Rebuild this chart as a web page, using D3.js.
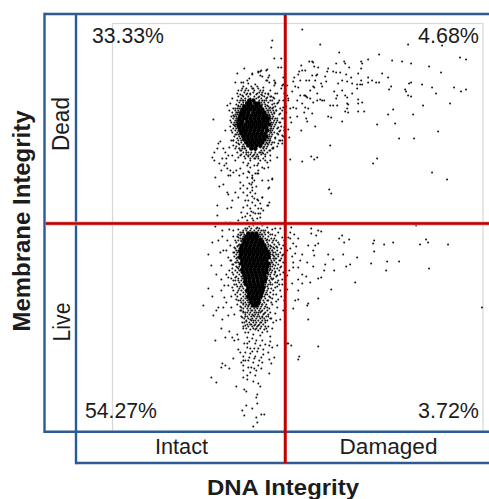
<!DOCTYPE html>
<html><head><meta charset="utf-8">
<script src="https://cdn.jsdelivr.net/npm/d3@7"></script>
<style>html,body{margin:0;padding:0;background:#fff}svg{display:block}text{font-family:"Liberation Sans",Arial,sans-serif;fill:#1c1c1c}</style>
</head><body><svg id="c" width="489" height="499"></svg>
<script>
const quadrantLabels = ["33.33%","4.68%","54.27%","3.72%"];
const xCategories = ["Intact","Damaged"];
const yCategories = ["Dead","Live"];
const xTitle = "DNA Integrity", yTitle = "Membrane Integrity";
const xGate = 285, yGate = 223;

// [DNA channel, membrane channel] events
const damagedDead = [[302,29],[320,44],[339,52],[379,54],[408,44],[442,45],[460,57],[466,59],[368,59],[361,61],[362,63],[392,60],[402,61],[411,63],[429,66],[441,72],[344,61],[345,63],[349,67],[336,63],[309,61],[312,61],[313,62],[301,65],[314,66],[318,67],[328,68],[327,71],[333,71],[336,72],[340,72],[346,74],[361,68],[358,73],[351,77],[299,71],[302,70],[305,70],[312,75],[316,75],[317,74],[298,74],[294,77],[293,81],[300,80],[306,80],[309,80],[315,80],[325,76],[326,81],[321,83],[322,86],[338,83],[342,80],[347,81],[361,80],[357,84],[360,84],[362,84],[368,77],[372,80],[368,82],[376,82],[379,82],[382,73],[388,77],[391,86],[389,89],[411,82],[409,83],[422,84],[432,87],[436,93],[454,87],[461,91],[466,89],[405,89],[406,91],[408,95],[411,96],[450,103],[423,105],[393,109],[388,114],[413,114],[395,123],[377,124],[438,131],[399,138],[414,138],[330,145],[311,156],[314,159],[317,157],[290,159],[302,161],[377,158],[373,163],[432,172],[447,179],[329,189],[331,193],[295,86],[298,87],[304,95],[305,95],[306,96],[307,97],[313,86],[314,87],[320,99],[322,100],[324,100],[334,91],[337,95],[336,98],[330,105],[333,105],[337,105],[347,103],[348,104],[347,108],[345,111],[348,112],[358,103],[362,102],[358,111],[364,111],[352,93],[347,97],[358,99],[293,107],[296,108],[302,103],[305,107],[308,108],[304,112],[312,113],[297,116],[306,118],[301,130],[307,121],[315,126],[289,137],[288,129],[291,122],[290,117],[328,116],[331,117],[342,121],[310,98],[313,102],[317,93],[310,90],[317,100],[342,90],[345,95],[352,83],[357,88],[287,85],[287,95],[288,98],[286,106],[288,100],[290,108],[292,91],[297,100],[300,95]];

const damagedLive = [[416,225],[311,228],[318,230],[321,231],[311,233],[316,235],[342,235],[339,238],[349,239],[344,242],[374,240],[373,243],[384,244],[393,242],[426,239],[428,242],[420,244],[448,244],[290,232],[294,234],[298,238],[290,238],[293,243],[308,245],[315,245],[318,243],[313,250],[314,255],[302,254],[295,253],[293,262],[300,260],[307,262],[313,266],[328,254],[333,259],[325,264],[343,254],[357,257],[374,251],[350,264],[346,266],[334,270],[324,270],[371,263],[387,261],[399,261],[386,270],[429,268],[298,267],[293,267],[302,274],[306,276],[310,282],[318,278],[321,277],[298,279],[292,283],[302,283],[298,290],[355,282],[331,289],[318,298],[308,303],[307,305],[298,299],[295,300],[293,308],[308,319],[482,307],[287,343],[291,345],[318,346],[299,356],[298,359],[287,250],[287,275],[287,289],[288,343],[290,248],[292,256],[289,270],[296,246],[291,227],[288,237]];

const intactDead = [[272,40],[271,47],[274,58],[281,58],[278,67],[281,67],[244,68],[237,73],[252,73],[258,72],[261,70],[267,69],[260,75],[268,77],[267,80],[235,82],[241,82],[243,82],[247,80],[249,78],[248,83],[242,88],[238,90],[237,93],[232,98],[230,103],[227,105],[229,110],[233,115],[213,119],[230,120],[255,84],[263,87],[270,90],[275,82],[274,85],[281,88],[283,84],[284,93],[257,93],[250,93],[260,90],[265,93],[273,97],[277,93],[272,100],[283,100],[277,103],[270,107],[273,110],[282,110],[280,113],[284,118],[272,118],[276,122],[264,100],[267,105],[247,93],[243,100],[240,100],[238,105],[235,108],[266,70],[260,71],[258,71],[252,74],[262,76],[269,75],[266,80],[269,82],[274,80],[275,83],[283,77],[282,85],[283,107],[268,93],[275,93],[273,107],[274,113],[275,118],[277,120],[278,127],[277,133],[282,135],[280,140],[282,143],[268,123],[271,132],[266,135],[263,147],[273,147],[260,152],[265,160],[258,163],[262,167],[268,167],[258,173],[255,173],[272,179],[269,187],[269,202],[268,205],[262,197],[258,200],[261,208],[255,213],[260,217],[258,213],[252,177],[252,187],[225,130],[220,141],[218,143],[231,140],[223,148],[214,152],[212,157],[214,160],[219,163],[222,158],[224,165],[227,168],[230,170],[225,152],[233,145],[237,152],[238,157],[243,162],[247,165],[250,160],[253,155],[255,150],[260,147],[263,153],[260,160],[267,162],[257,165],[258,170],[264,168],[240,168],[243,173],[247,177],[252,175],[257,173],[215,177],[230,175],[228,175],[233,172],[272,178],[268,180],[270,160],[277,157],[273,148],[282,140],[278,143],[223,184],[219,186],[240,182],[243,185],[252,182],[252,190],[247,188],[240,188],[227,192],[228,194],[235,192],[238,197],[247,195],[255,193],[243,192],[268,188],[217,205],[232,200],[227,208],[231,207],[217,215],[248,200],[252,202],[247,205],[255,205],[260,203],[267,205],[250,208],[258,208],[253,212],[260,213],[247,213],[242,217],[250,215],[257,218],[238,220],[247,220],[260,222],[255,222],[230,222],[225,222],[253,220],[262,197],[257,199],
[234,125],[231,130],[236,134],[233,140],[238,143],[242,148],[229,147],[226,158],[232,155],[217,148],[235,160],[240,155],[246,152],[250,167],[254,165],[248,171],[245,158],[252,178],[251,184],[250,192],[252,196],[249,183],[254,180],[262,180],[256,186],[245,200],[243,207],[254,198],[251,211],[263,210],[245,216],[252,218],[241,212],[269,140],[272,142],[275,137],[279,131],[284,127],[280,122],[271,128],[269,115],[276,110],[279,100],[286,112],[284,130],[270,150],[267,143],[265,154],[270,155],[258,156],[255,158],[248,155],[248,163],[244,148],[239,148],[236,120],[237,112],[239,116],[242,95],[245,90],[253,88],[258,97],[262,95],[267,97],[270,96],[274,103],[268,110],[240,150],[235,148],[228,155],[226,163],[221,170],[236,170],[239,175],[249,172]];

const intactLive = [[215,226],[222,230],[229,229],[233,230],[238,229],[222,236],[212,242],[218,240],[230,245],[235,240],[238,237],[223,250],[220,252],[208,254],[228,257],[234,252],[237,257],[211,265],[221,265],[232,264],[237,267],[216,274],[226,274],[228,277],[221,279],[232,272],[235,277],[238,280],[228,285],[224,285],[208,288],[232,287],[212,296],[221,290],[224,297],[226,302],[235,294],[238,290],[203,305],[218,307],[216,310],[213,315],[223,307],[231,307],[237,304],[234,314],[222,319],[228,315],[240,310],[242,317],[242,322],[245,325],[250,319],[255,320],[258,325],[262,317],[265,320],[270,312],[267,307],[272,304],[277,307],[280,319],[273,322],[245,312],[252,310],[258,312],[248,305],[262,304],[272,229],[267,227],[263,230],[262,234],[270,234],[275,235],[278,232],[267,239],[273,240],[282,237],[283,245],[277,247],[270,245],[278,254],[273,255],[282,255],[285,262],[275,265],[280,267],[270,269],[277,275],[282,279],[272,279],[270,284],[275,287],[280,290],[273,294],[270,297],[278,299],[267,294],[267,300],[278,242],[262,225],[253,225],[245,228],[242,232],[221,328],[229,331],[215,340],[225,337],[232,337],[234,340],[238,339],[237,334],[245,332],[250,329],[255,329],[264,329],[247,337],[252,338],[256,340],[260,335],[270,336],[270,341],[277,345],[269,345],[272,347],[247,343],[255,343],[250,348],[260,345],[238,349],[240,352],[245,352],[252,351],[257,351],[263,349],[268,352],[243,356],[255,356],[250,353],[233,358],[261,357],[248,360],[254,358],[241,362],[274,357],[269,359],[262,362],[271,363],[222,363],[221,367],[225,365],[229,368],[243,365],[251,367],[254,368],[258,365],[261,368],[243,370],[269,373],[247,375],[255,375],[211,377],[243,377],[247,379],[253,381],[216,382],[236,386],[258,383],[260,386],[244,389],[246,391],[257,394],[256,397],[257,403],[246,405],[252,408],[242,410],[261,414],[264,414],[244,415],[256,417],[257,422],[253,426],
[240,300],[243,303],[236,299],[243,311],[247,316],[241,307],[253,315],[257,316],[261,311],[264,313],[268,316],[275,313],[270,318],[265,326],[261,322],[254,325],[250,324],[246,321],[267,331],[272,328],[276,320],[283,310],[284,300],[281,296],[276,301],[285,283],[279,284],[277,282],[283,272],[275,271],[272,262],[273,247],[276,258],[280,260],[272,250],[284,240],[280,228],[285,230],[275,228],[257,227],[249,226],[241,241],[238,245],[236,262],[239,270],[236,284],[240,286],[231,296],[233,280],[229,270],[230,260],[226,250],[234,247],[240,235],[233,236],[227,240],[268,232],[258,330],[262,332],[248,332],[243,328],[253,334],[249,341],[244,343],[262,340],[265,344],[258,348],[247,347],[254,348],[263,354],[259,360],[249,357],[253,362],[245,360],[248,367],[256,370],[250,372],[243,360]];

// dense fringes around each population, as [membrane channel, DNA channels...] rows
const liveFringeRows = [[228,247,251,256,259],[230,243,246,250,254,258,261,265],[232,240,243,260,264,268],[234,238,241,244,259,261,265,272],[236,237,243,260,263,268],[238,240,242,262,265,271,274],[240,238,241,263,266,269,276],[242,236,243,263,267,272],[244,239,241,265,268,274,279],[246,237,240,265,268,271,276],[248,235,239,267,270,274,281],[250,236,238,269,272,277],[252,233,237,270,273,275,280],[254,236,239,270,272,276,283],[256,234,238,270,274,278],[258,236,239,270,273,275,281],[260,231,237,271,274,279],[262,235,238,271,276,283],[264,233,239,270,273,278],[266,236,239,270,272,281],[268,232,238,270,274,277],[270,235,240,269,272,279],[272,237,241,268,271,275,284],[274,233,239,268,270,274,280],[276,236,241,267,270,276],[278,231,238,242,267,271,273],[280,235,241,266,269,278],[282,239,243,266,270,275],[284,234,241,244,265,268,272,282],[286,237,242,265,267,277],[288,239,243,264,268,271],[290,233,241,245,264,267,273],[292,237,243,246,263,266,270],[294,240,245,262,265,276],[296,237,243,246,262,264,269],[298,241,245,247,261,265,272],[300,238,243,247,260,263,268],[302,241,245,248,260,264,271],[304,243,246,249,259,262,266],[306,240,245,248,251,255,258,261,265],[308,243,247,250,254,257,260,264,269],[310,241,248,251,255,259,262,267],[312,243,247,250,254,256,260,265],[314,245,249,252,255,258,263,268],[316,241,245,251,254,259,262,266],[318,244,248,252,256,260,264,271],[320,246,251,253,258,262,267],[322,244,249,253,256,260,265],[324,247,251,255,259,263],[326,243,248,252,257,261,268],[328,246,253,256,260,266]];
const deadFringeRows = [[86,243,251,257],[88,246,252,258],[90,241,248,254,263],[92,244,253,259,262],[94,240,246,250,256,261,268],[96,238,243,248,254,259,264,271],[98,241,245,250,256,261,266,274],[100,237,242,245,259,262,266,270],[102,239,243,246,261,264,268,278],[104,236,241,243,262,265,272],[106,238,240,265,268,275],[108,233,237,239,266,269,272,280],[110,235,238,267,270,276],[112,232,236,238,268,271,274],[114,235,237,269,272,279],[116,231,234,236,270,273],[118,233,236,270,272,277,282],[120,235,237,270,274],[122,231,234,236,271,273,279],[124,233,235,272,275],[126,230,235,237,271,274,281],[128,233,236,270,273,277],[130,235,238,270,272,280],[132,232,237,270,274],[134,235,238,269,272,278],[136,234,239,269,271,283],[138,237,240,268,270,275],[140,233,238,241,267,270,279],[142,236,241,266,269,274],[144,239,243,265,268,271],[146,236,242,244,264,267,277],[148,239,245,263,266,272],[150,241,246,261,264,269],[152,243,248,251,255,259,262,267],[154,241,246,250,254,257,261],[156,244,248,252,256,265],[158,250,254,258,263]];

// solid core of each population, same row layout
const deadCoreRows = [[100,249,253],[103,247,250,255,258],[106,244,248,252,256,260],[109,242,246,250,254,258,262],[112,241,244,248,253,257,260,264],[115,240,243,247,251,255,259,263,266],[118,239,243,246,250,254,258,262,265,268],[121,239,242,247,251,255,259,263,267],[124,238,241,245,249,253,257,261,265,269],[127,239,243,247,251,255,259,263,266],[130,240,243,246,250,254,258,262,267],[133,241,245,249,253,257,261,265],[136,243,247,251,255,259,263,266],[139,244,248,252,256,260,264],[142,246,250,254,258,262],[145,248,252,256,260],[148,251,255]];
const liveCoreRows = [[233,248,252,256],[236,246,250,254,257],[239,244,248,252,256,260],[242,244,247,251,255,259,262],[245,242,246,250,254,258,261,264],[248,241,245,249,253,257,261,265],[251,240,243,247,251,255,259,263,267],[254,241,245,249,253,257,261,265,268],[257,240,244,248,252,256,260,264,268],[260,242,246,250,254,258,262,266],[263,241,245,249,253,257,261,265,268],[266,243,247,251,255,259,263,267],[269,242,246,250,254,258,262,266],[272,243,247,251,255,259,263,266],[275,244,248,252,256,260,264],[278,245,249,253,257,261,265],[281,245,249,253,257,261,264],[284,246,250,254,258,262],[287,248,252,256,260,263],[290,247,251,255,259,262],[293,249,253,257,261],[296,248,252,256,260],[299,250,254,258],[302,251,255,258],[305,253,256]];

const W=489,H=499;
const svg=d3.select("#c");
const x=d3.scaleLinear().domain([112,483]).range([112.5,483]);
const y=d3.scaleLinear().domain([23,431]).range([23.5,431.5]);
const unrow=rows=>rows.flatMap(([m,...ds])=>ds.map(d=>[d,m]));

// plot frame
svg.append("rect").attr("x",x(112)).attr("y",y(23)).attr("width",x(483)-x(112)).attr("height",y(431)-y(23))
  .attr("fill","#fff").attr("stroke","#d8d8d8").attr("stroke-width",1.2);

const dots=svg.append("g").attr("fill","#151515").style("filter","blur(0.35px)");
const sparse=[...damagedDead,...damagedLive,...intactDead,...intactLive,...unrow(liveFringeRows),...unrow(deadFringeRows)];
dots.selectAll("circle.e").data(sparse).join("circle").attr("class","e")
  .attr("cx",d=>x(d[0])).attr("cy",d=>y(d[1])).attr("r",1);
const core=[...unrow(deadCoreRows),...unrow(liveCoreRows)];
dots.selectAll("circle.k").data(core).join("circle").attr("class","k")
  .attr("cx",d=>x(d[0])).attr("cy",d=>y(d[1])).attr("r",2.3).attr("fill","#000");

// gate strips
const blue="#2c5a94",red="#c00000";
const line=(a,b,c,d,col,w)=>svg.append("line").attr("x1",a).attr("y1",b).attr("x2",c).attr("y2",d).attr("stroke",col).attr("stroke-width",w);
const stripL=44.5, stripI=76, topY=14, botY=y(431)+0.2, botY2=463;
line(stripL,topY,W,topY,blue,2.4);
line(stripL,topY-1.2,stripL,botY+1.2,blue,2.4);
line(stripI,topY,stripI,botY2+1.2,blue,2.4);
line(stripL,botY,W,botY,blue,2.4);
line(stripI,botY2,W,botY2,blue,2.4);
line(stripL+1,y(yGate),W,y(yGate),"#e9a5a5",4.2);
line(stripL+1,y(yGate),W,y(yGate),red,2.6);
line(x(xGate),topY+1,x(xGate),botY2,red,3);

const label=(t,px,py,anchor,size,len)=>svg.append("text").text(t).attr("x",px).attr("y",py).attr("text-anchor",anchor).attr("font-size",size)
  .attr("textLength",len).attr("lengthAdjust","spacingAndGlyphs");
label(quadrantLabels[0],92,43,"start",22,72);
label(quadrantLabels[1],479,43,"end",22,61);
label(quadrantLabels[2],85,417.5,"start",22,72);
label(quadrantLabels[3],479,417.5,"end",22,61);
label(xCategories[0],181.5,454,"middle",22,53);
label(xCategories[1],388.5,453.5,"middle",22,98);
label(xTitle,283,494.5,"middle",21.5,152).attr("font-weight","bold");

const rot=(t,px,py,size,len)=>svg.append("text").text(t).attr("transform",`translate(${px},${py}) rotate(-90)`).attr("text-anchor","middle").attr("font-size",size)
  .attr("textLength",len).attr("lengthAdjust","spacingAndGlyphs");
rot(yCategories[0],68.5,124,23,54);
rot(yCategories[1],69.5,322,23,39);
rot(yTitle,29.5,221,24,221).attr("font-weight","bold");
</script></body></html>
